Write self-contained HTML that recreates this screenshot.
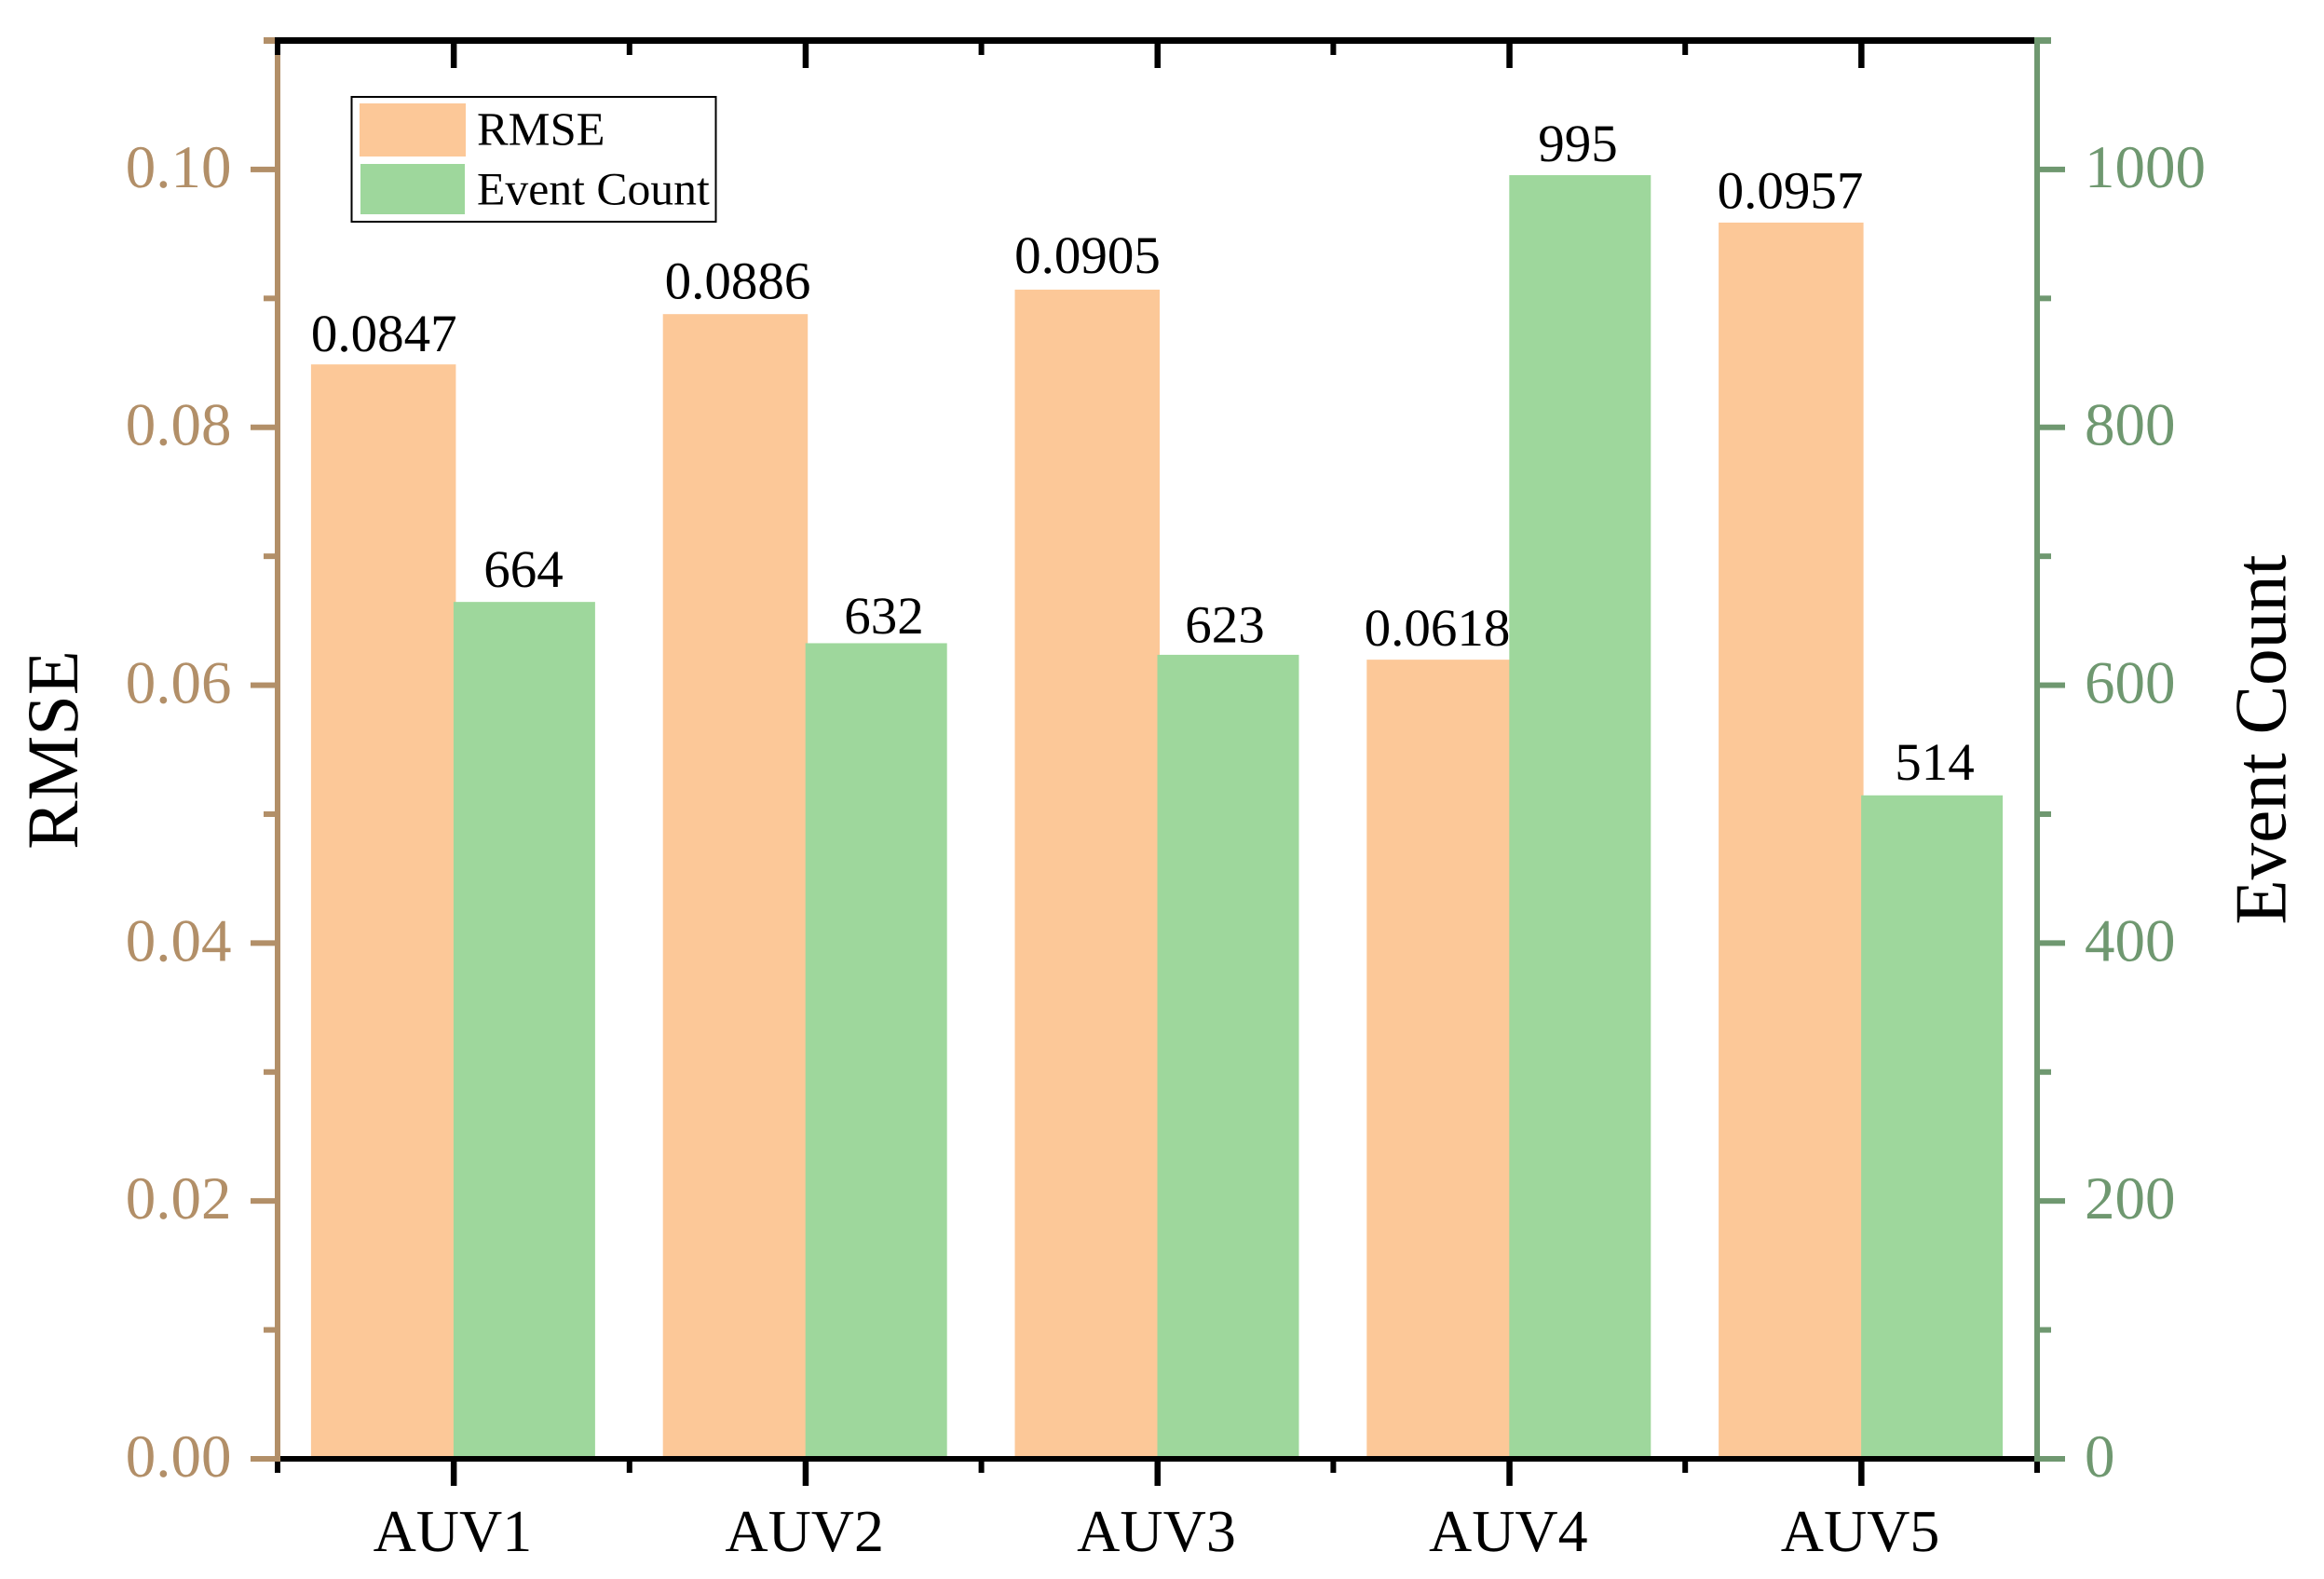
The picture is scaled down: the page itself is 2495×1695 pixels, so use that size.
<!DOCTYPE html>
<html lang="en">
<head>
<meta charset="utf-8">
<title>RMSE and Event Count by AUV</title>
<style>
html,body{margin:0;padding:0;background:#fff;}
svg{display:block;font-family:"Liberation Serif","Times New Roman",serif;text-rendering:geometricPrecision;}
</style>
</head>
<body>
<svg id="chart" xmlns="http://www.w3.org/2000/svg" width="2495" height="1695" viewBox="0 0 2495 1695">
<rect x="0" y="0" width="2495" height="1695" fill="#ffffff"/>
<g id="bars"></g>
<g id="labels"></g>
<g id="axes"></g>
<text transform="translate(83,805) rotate(-90)" text-anchor="middle" font-size="78.5" fill="#000">RMSE</text>
<text transform="translate(2453.7,794) rotate(-90)" text-anchor="middle" font-size="79" fill="#000">Event Count</text>
<g>
<rect x="377.5" y="104" width="391" height="134" fill="#fff" stroke="#000" stroke-width="2"/>
<rect x="386" y="111" width="114" height="57" fill="#FCC898"/>
<text x="512" y="155.3" font-size="50.5" fill="#000">RMSE</text>
<rect x="387" y="176" width="112" height="54" fill="#9ED79C"/>
<text x="512" y="219.3" font-size="49.7" fill="#000">Event Count</text>
</g>
</svg>
<script>
const categories = ["AUV1", "AUV2", "AUV3", "AUV4", "AUV5"];
const rmseValues = [0.0847, 0.0886, 0.0905, 0.0618, 0.0957];
const eventCounts = [664, 632, 623, 995, 514];
const rmseLabels = ["0.0847", "0.0886", "0.0905", "0.0618", "0.0957"];
const eventLabels = ["664", "632", "623", "995", "514"];
const rmseTicks = [0, 0.02, 0.04, 0.06, 0.08, 0.10];
const rmseTickLabels = ["0.00", "0.02", "0.04", "0.06", "0.08", "0.10"];
const eventTicks = [0, 200, 400, 600, 800, 1000];
const eventTickLabels = ["0", "200", "400", "600", "800", "1000"];

const NS = "http://www.w3.org/2000/svg";
const TAN = "#B28F68", SAGE = "#6F9870", ORANGE = "#FCC898", GREEN = "#9ED79C";
const plotLeft = 298, plotRight = 2187, plotTop = 43.5, plotBottom = 1566;
const rmseMax = 0.11, eventMax = 1100;

function xScale(pos) { return plotLeft + (pos + 0.5) * (plotRight - plotLeft) / categories.length; }
function yRmse(v) { return plotBottom - v * (plotBottom - plotTop) / rmseMax; }
function yEvent(v) { return plotBottom - v * (plotBottom - plotTop) / eventMax; }
function yRmseBar(v) { return yRmse(v) - 2.5; }
function yEventBar(v) { return yEvent(v) - 0.8; }

function make(tag, attrs, parent, content) {
  const el = document.createElementNS(NS, tag);
  for (const k in attrs) el.setAttribute(k, attrs[k]);
  if (content !== undefined) el.textContent = content;
  parent.appendChild(el);
  return el;
}
function box(parent, x, y, w, h, fill) {
  return make("rect", { x: x, y: y, width: w, height: h, fill: fill }, parent);
}
function slug(s) { return String(s).toLowerCase().replace(/\./g, "-"); }

const barsG = document.getElementById("bars");
const labelsG = document.getElementById("labels");
const axesG = document.getElementById("axes");

/* bars */
categories.forEach(function (cat, i) {
  const cx = xScale(i);
  const top = yRmseBar(rmseValues[i]);
  const bar = box(barsG, cx - 153, top, 155.5, plotBottom - top, ORANGE);
  
  
});
categories.forEach(function (cat, i) {
  const cx = xScale(i);
  const top = yEventBar(eventCounts[i]);
  const bar = box(barsG, cx, top, 152, plotBottom - top, GREEN);
  
  
});

/* value labels: hand-placed in the original, so each keeps a small nudge from its bar */
function rmseNudge(i) {
  return [[0.6, 1.7], [2.5, -0.7], [0.2, -1.7], [-2.1, 1], [-0.9, 0.6]][i];
}
function eventNudge(i) {
  return [[-0.9, -0.8], [8.3, 4.9], [-3.5, 1.7], [-2.3, 0], [2.9, -1.8]][i];
}
categories.forEach(function (cat, i) {
  const cx = xScale(i);
  const na = rmseNudge(i);
  const a = make("text", { x: cx - 75.2 + na[0], y: yRmseBar(rmseValues[i]) - 16 + na[1], "text-anchor": "middle", "font-size": 57, fill: "#000" }, labelsG, rmseLabels[i]);
  
  
  const nb = eventNudge(i);
  const b = make("text", { x: cx + 76 + nb[0], y: yEvent(eventCounts[i]) - 16 + nb[1], "text-anchor": "middle", "font-size": 57, fill: "#000" }, labelsG, eventLabels[i]);
  
  
});

/* left axis line */
const leftLine = box(axesG, 295, 40, 6, 1529, TAN);



/* right axis line */
const rightLine = box(axesG, 2184, 40, 6, 1529, SAGE);



/* horizontal frame lines */
const topLine = box(axesG, 295, 40, 1889, 7, "#000");


const bottomLine = box(axesG, 301, 1563, 1883, 6, "#000");



/* x ticks and category labels */
for (let i = 0; i <= categories.length; i++) {
  const mx = xScale(i - 0.5);
  if (i < categories.length) {
    const bm = box(axesG, mx - 3, 1569, 6, 12, "#000");
    
    
    const tm = box(axesG, mx - 3, 47, 6, 12, "#000");
    
    
  } else {
    const bm = box(axesG, mx - 3, 1569, 6, 12, "#000");
    
    
  }
}
categories.forEach(function (cat, i) {
  const cx = xScale(i);
  const b = box(axesG, cx - 3, 1569, 6.5, 26, "#000");
  
  
  const t = box(axesG, cx - 3, 47, 6.5, 26, "#000");
  
  
  const lab = make("text", { x: cx - 1, y: 1665, "text-anchor": "middle", "font-size": 64, fill: "#000" }, axesG, cat);
  
  
});

/* left ticks */
for (let k = 1; k <= 11; k += 2) {
  const y = yRmse(k * rmseMax / 11);
  const m = box(axesG, 283, y - 3, 12, 6, TAN);
  
  
}
rmseTicks.forEach(function (v, i) {
  const y = yRmse(v);
  const t = box(axesG, 269, y - 3, i === 0 ? 32 : 26, 6, TAN);
  
  
  const lab = make("text", { x: 248.5, y: y + 19, "text-anchor": "end", "font-size": 65, fill: TAN }, axesG, rmseTickLabels[i]);
  
  
});

/* right ticks */
for (let k = 1; k <= 11; k += 2) {
  const y = yEvent(k * eventMax / 11);
  const m = box(axesG, 2190, y - 3, 12, 6, SAGE);
  
  
}
eventTicks.forEach(function (v, i) {
  const y = yEvent(v);
  const t = box(axesG, i === 0 ? 2184 : 2190, y - 3, i === 0 ? 33 : 27, 6, SAGE);
  
  
  const lab = make("text", { x: 2238, y: y + 19, "text-anchor": "start", "font-size": 65, fill: SAGE }, axesG, eventTickLabels[i]);
  
  
});

/* corner pieces at the top of the axes */
const tanCorner = box(axesG, 283, 40, 12, 7, TAN);


const leftCap = box(axesG, 295, 40, 6, 19, "#000");


const sageCorner = box(axesG, 2184, 40, 18, 7, SAGE);


</script>
</body>
</html>
